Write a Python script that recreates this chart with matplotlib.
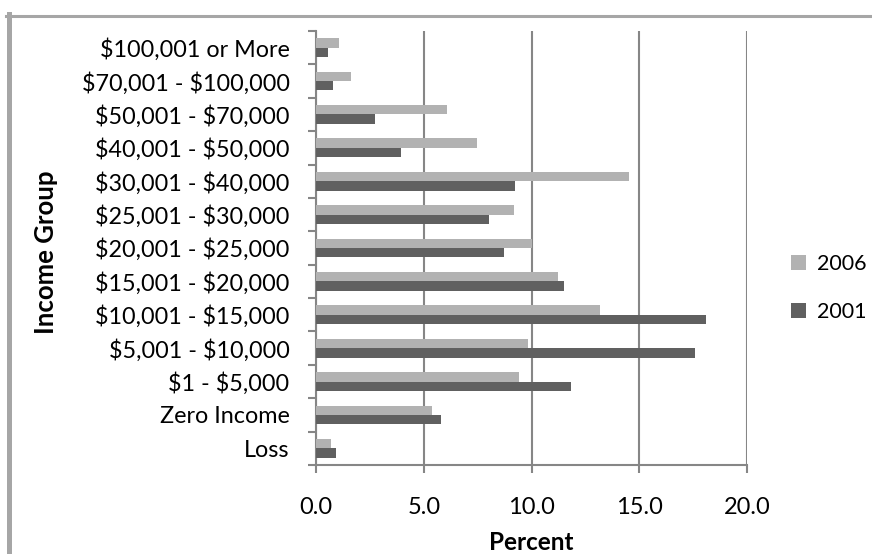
import matplotlib
matplotlib.use('Agg')
import matplotlib.pyplot as plt
import numpy as np
from matplotlib.lines import Line2D

# categories bottom -> top
groups = ['Loss', 'Zero Income', '$1 - $5,000', '$5,001 - $10,000',
          '$10,001 - $15,000', '$15,001 - $20,000', '$20,001 - $25,000',
          '$25,001 - $30,000', '$30,001 - $40,000', '$40,001 - $50,000',
          '$50,001 - $70,000', '$70,001 - $100,000', '$100,001 or More']
pct_2006 = [0.70, 5.39, 9.44, 9.86, 13.18, 11.21, 10.0, 9.21, 14.52, 7.46, 6.08, 1.64, 1.05]
pct_2001 = [0.95, 5.80, 11.84, 17.60, 18.11, 11.50, 8.73, 8.03, 9.22, 3.95, 2.72, 0.78, 0.54]
xticks = [0, 5, 10, 15, 20]

plt.rcParams['font.family'] = ['Lato', 'DejaVu Sans']
plt.rcParams['text.parse_math'] = False
grid_col = '#868686'

fig = plt.figure(figsize=(8.72, 5.54), dpi=100)
ax = fig.add_axes([316 / 872, 1 - 465 / 554, 431 / 872, 434 / 554])

y = np.arange(len(groups))
h = 0.28
b06 = ax.barh(y + h / 2, pct_2006, height=h, color='#b2b2b2', label='2006', zorder=3)
b01 = ax.barh(y - h / 2, pct_2001, height=h, color='#606060', label='2001', zorder=3)

ax.set_xlim(0, 20)
ax.set_ylim(-0.5, len(groups) - 0.5)
ax.set_xticks(xticks)
ax.set_xticklabels([f'{v:.1f}' for v in xticks], fontsize=17)
ax.set_yticks(np.arange(len(groups) + 1) - 0.5, minor=False)
ax.set_yticklabels([''] * (len(groups) + 1))
ax.set_yticks(y, minor=True)
ax.set_yticklabels(groups, minor=True, fontsize=16.8)
ax.tick_params(axis='y', which='major', direction='out', length=6, width=1.5, color=grid_col)
ax.tick_params(axis='y', which='minor', length=0, pad=19)
ax.tick_params(axis='x', direction='out', length=6, width=1.5, color=grid_col, pad=17)

ax.grid(axis='x', color=grid_col, linewidth=1.5, zorder=0)
for s in ('top', 'right'):
    ax.spines[s].set_visible(False)
for s in ('left', 'bottom'):
    ax.spines[s].set_color(grid_col)
    ax.spines[s].set_linewidth(1.5)

ax.set_xlabel('Percent', fontsize=17.5, fontweight='bold')
ax.xaxis.set_label_coords(0.5, (465 - 542) / 434)
ax.xaxis.label.set_va('center')
ax.set_ylabel('Income Group', fontsize=18.5, fontweight='bold')
ax.yaxis.set_label_coords((46 - 316) / 431, (465 - 252) / 434)
ax.yaxis.label.set_va('center')

fig.legend(handles=[b06, b01], loc='center left', bbox_to_anchor=(772 / 872, 1 - 288 / 554),
           frameon=False, fontsize=15.5, handlelength=0.7, handleheight=0.7,
           handletextpad=0.5, labelspacing=1.3)

# outer chart border (left and top edges visible)
fig.add_artist(Line2D([8.5 / 872, 8.5 / 872], [0, 1 - 14 / 554], transform=fig.transFigure,
                      color='#a6a6a6', linewidth=3.6))
fig.add_artist(Line2D([6 / 872, 1], [1 - 15.5 / 554, 1 - 15.5 / 554], transform=fig.transFigure,
                      color='#a6a6a6', linewidth=2.2))

fig.savefig('out.png', dpi=100)
